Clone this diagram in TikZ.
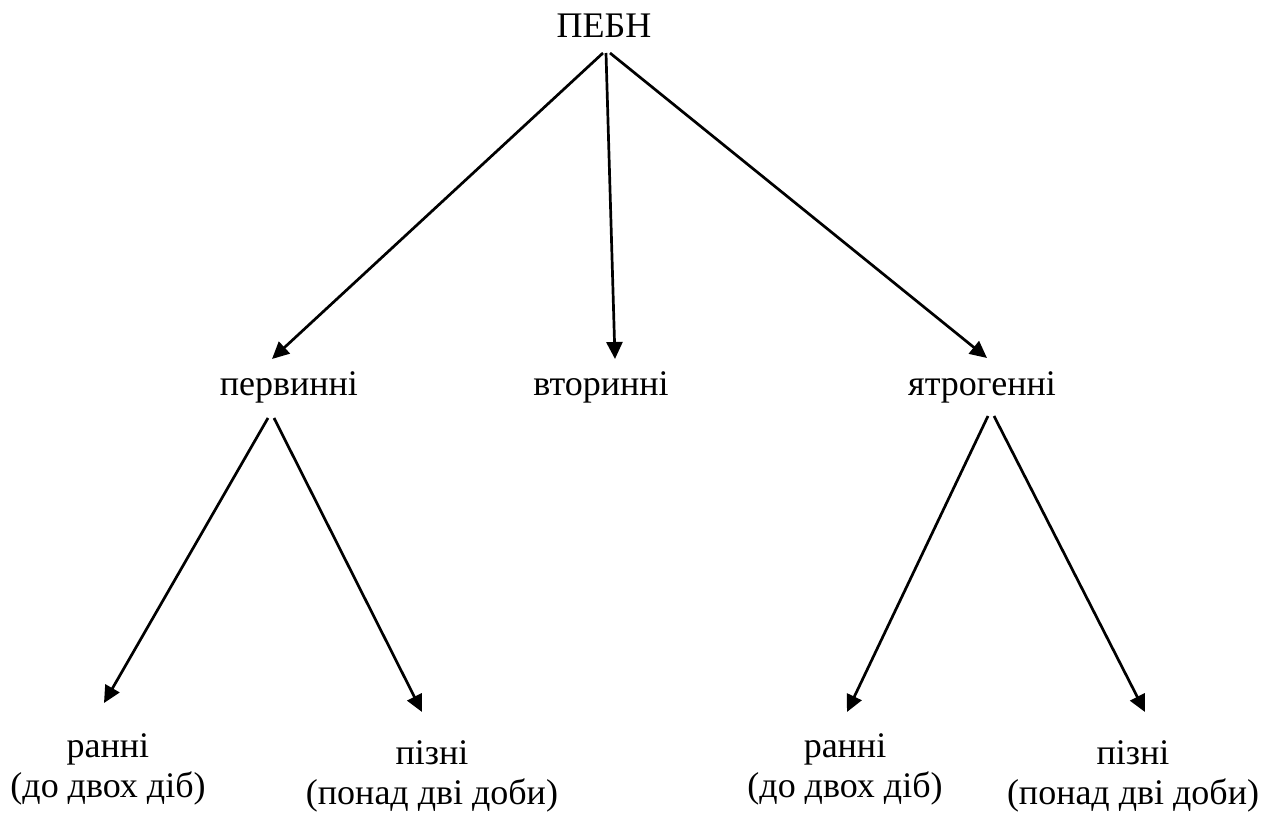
\documentclass[tikz,border=0pt]{standalone}
\usepackage{fontspec}
\setmainfont{Liberation Serif}
\usetikzlibrary{arrows.meta}
\begin{document}
\begin{tikzpicture}[x=1pt,y=-1pt,
  lbl/.style={anchor=base, inner sep=0pt, font=\fontsize{36}{40}\selectfont},
  arr/.style={line width=2.7pt, -{Triangle[length=17pt,width=16pt]}}]
\useasboundingbox (0,0) rectangle (1272,813);
% labels
\node[lbl] (root) at (604,38) {ПЕБН};
\node[lbl] (prim) at (289,395) {первинні};
\node[lbl] (sec)  at (601,395) {вторинні};
\node[lbl] (iat)  at (982,395) {ятрогенні};
\node[lbl] (early1) at (108,757) {\begin{tabular}[t]{c}ранні\\(до двох діб)\end{tabular}};
\node[lbl] (late1)  at (432,764) {\begin{tabular}[t]{c}пізні\\(понад дві доби)\end{tabular}};
\node[lbl] (early2) at (845,757) {\begin{tabular}[t]{c}ранні\\(до двох діб)\end{tabular}};
\node[lbl] (late2)  at (1133,764) {\begin{tabular}[t]{c}пізні\\(понад дві доби)\end{tabular}};
% connector ends
\coordinate (root-a) at (603,53);
\coordinate (root-b) at (606,53);
\coordinate (root-c) at (610,53);
\coordinate (prim-in) at (272,359);
\coordinate (sec-in)  at (615,359);
\coordinate (iat-in)  at (987,358);
\coordinate (prim-a) at (268,418);
\coordinate (prim-b) at (274,418);
\coordinate (iat-a) at (988,416);
\coordinate (iat-b) at (994,416);
\coordinate (early1-in) at (104,703);
\coordinate (late1-in)  at (422,712);
\coordinate (early2-in) at (847,712);
\coordinate (late2-in)  at (1145,712);
% connectors
\draw[arr] (root-a) -- (prim-in);
\draw[arr] (root-b) -- (sec-in);
\draw[arr] (root-c) -- (iat-in);
\draw[arr] (prim-a) -- (early1-in);
\draw[arr] (prim-b) -- (late1-in);
\draw[arr] (iat-a) -- (early2-in);
\draw[arr] (iat-b) -- (late2-in);
\end{tikzpicture}
\end{document}
